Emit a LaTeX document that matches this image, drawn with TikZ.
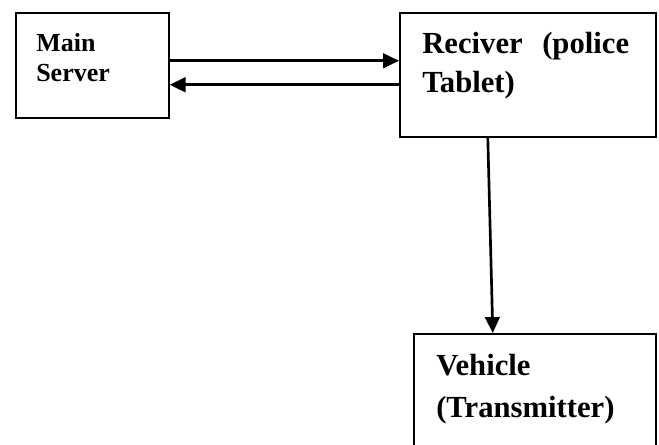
\documentclass[tikz,border=0pt]{standalone}
\usepackage{fontspec}
\setmainfont{Liberation Serif}
\usetikzlibrary{arrows.meta}
\tikzset{
  box/.style={draw=black, line width=1.2pt, rectangle, inner sep=0pt, anchor=north west},
  arr/.style={line width=2pt, -{Triangle[length=12pt,width=11pt]}},
  small/.style={anchor=base west, inner sep=0pt, font=\bfseries\fontsize{19.5}{19.5}\selectfont},
  big/.style={anchor=base west, inner sep=0pt, font=\bfseries\fontsize{23}{23}\selectfont}
}
\begin{document}
\begin{tikzpicture}[x=0.75pt,y=-0.75pt]
\clip (0,0) rectangle (659,445);
\fill[white] (0,0) rectangle (659,445);
\node[box, minimum width=114.75pt, minimum height=78.75pt] (ms) at (15,12) {};
\node[box, minimum width=192pt, minimum height=93pt] (rx) at (399,12) {};
\node[box, minimum width=181.5pt, minimum height=105pt] (vh) at (413,333) {};
\node[small] (t1) at (36,52) {Main};
\node[small] (t2) at (36,82) {Server};
\node[big] (t3) at (422,54) {Reciver};
\node[big] (t4) at (542,54) {(police};
\node[big] (t5) at (422,93) {Tablet)};
\node[big] (t6) at (436,375) {Vehicle};
\node[big] (t7) at (436,417) {(Transmitter)};
\draw[arr] ([yshift=3.4pt]ms.east) -- ([yshift=3.4pt]ms.east -| rx.west);
\draw[arr] ([yshift=-14.6pt]ms.east -| rx.west) -- ([yshift=-14.6pt]ms.east);
\draw[arr] ([xshift=-30pt]rx.south) -- ([xshift=-31.5pt]vh.north);
\end{tikzpicture}
\end{document}
